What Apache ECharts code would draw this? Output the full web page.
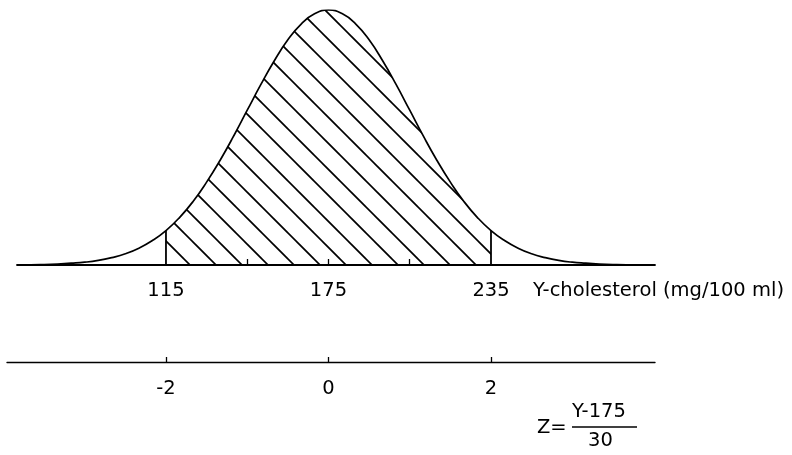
<!DOCTYPE html>
<html>
<head>
<meta charset="utf-8">
<script src="https://cdn.jsdelivr.net/npm/echarts@6/dist/echarts.min.js"></script>
<style>html,body{margin:0;padding:0;background:#fff}#c{width:792px;height:455px}</style>
</head>
<body>
<div id="c"></div>
<script>
// Cholesterol values (mg/100 ml) and curve height (relative, peak = 1)
const yValues = [60,65,70,75,80,85,90,95,100,105,110,115,120,125,130,135,140,145,150,155,160,165,170,175,180,185,190,195,200,205,210,215,220,225,230,235,240,245,250,255,260,265,270,275,280,285,290,295];
const heights = [0.001,0.001,0.002,0.004,0.007,0.011,0.018,0.029,0.044,0.066,0.096,0.135,0.186,0.249,0.325,0.411,0.506,0.607,0.707,0.801,0.883,0.946,0.986,1.000,0.986,0.946,0.883,0.801,0.707,0.607,0.506,0.411,0.325,0.249,0.186,0.135,0.096,0.066,0.044,0.029,0.018,0.011,0.007,0.004,0.002,0.001,0.001,0.000];
const shadedRange = [115, 235];
const yTickLabels = [115, 175, 235];
const yMinorTicks = [145, 175, 205];
const zTickLabels = [-2, 0, 2];
const xAxisTitle = 'Y-cholesterol (mg/100 ml)';
const formulaLeft = 'Z=';
const formulaNum = 'Y-175';
const formulaDen = '30';

const curveData = yValues.map((v, i) => [v, heights[i]]);
const shadedData = curveData.filter(p => p[0] >= shadedRange[0] && p[0] <= shadedRange[1]);
const boundaryData = shadedRange.map(v => [v, heights[yValues.indexOf(v)]]);

// hatch pattern: diagonal lines going down to the right
const P = 26;
const pc = document.createElement('canvas');
pc.width = P; pc.height = P;
const g = pc.getContext('2d');
g.strokeStyle = '#000';
g.lineWidth = 1.7;
[-3 - P, -3, -3 + P].forEach(c => {
  g.beginPath();
  g.moveTo(-5, -5 + c);
  g.lineTo(P + 5, P + 5 + c);
  g.stroke();
});

const FONT = 'DejaVu Sans';
const FS = 19.5;
const chart = echarts.init(document.getElementById('c'), null, {renderer: 'canvas'});
chart.setOption({
  animation: false,
  backgroundColor: '#fff',
  grid: [
    {left: 17, right: 137, top: 10, bottom: 190},
    {left: 7, right: 137, top: 300, bottom: 93}
  ],
  xAxis: [
    {
      type: 'value', gridIndex: 0, min: 60, max: 295.55,
      splitLine: {show: false},
      axisLine: {show: true, onZero: false, lineStyle: {color: '#000', width: 1.8}},
      axisTick: {show: true, inside: true, length: 6, customValues: yMinorTicks, lineStyle: {color: '#000', width: 1.3}},
      axisLabel: {show: true, customValues: yTickLabels, margin: 16, color: '#000', fontFamily: FONT, fontSize: FS}
    },
    {
      type: 'value', gridIndex: 1, min: -3.957, max: 4.018,
      splitLine: {show: false},
      axisLine: {show: true, onZero: false, lineStyle: {color: '#000', width: 1.4}},
      axisTick: {show: true, inside: true, length: 5, customValues: zTickLabels, lineStyle: {color: '#000', width: 1.3}},
      axisLabel: {show: true, customValues: zTickLabels, margin: 17, color: '#000', fontFamily: FONT, fontSize: FS}
    }
  ],
  yAxis: [
    {type: 'value', gridIndex: 0, min: 0, max: 1, show: false},
    {type: 'value', gridIndex: 1, min: 0, max: 1, show: false}
  ],
  series: [
    {
      type: 'line', xAxisIndex: 0, yAxisIndex: 0, data: shadedData,
      showSymbol: false, smooth: true, lineStyle: {width: 0, opacity: 0},
      areaStyle: {color: {image: pc, repeat: 'repeat'}, opacity: 1},
      z: 1
    },
    {
      type: 'line', xAxisIndex: 0, yAxisIndex: 0, data: curveData,
      showSymbol: false, smooth: true,
      lineStyle: {color: '#000', width: 1.7},
      z: 3
    },
    {
      type: 'custom', xAxisIndex: 0, yAxisIndex: 0, data: boundaryData,
      renderItem: function (params, api) {
        const p0 = api.coord([api.value(0), 0]);
        const p1 = api.coord([api.value(0), api.value(1)]);
        return {type: 'line', shape: {x1: p0[0], y1: p0[1], x2: p1[0], y2: p1[1]}, style: {stroke: '#000', lineWidth: 1.8}};
      },
      z: 4
    }
  ],
  graphic: [
    {type: 'text', left: 533, top: 281, style: {text: xAxisTitle, font: FS + 'px "DejaVu Sans"', fill: '#000'}},
    {type: 'text', left: 537, top: 418, style: {text: formulaLeft, font: FS + 'px "DejaVu Sans"', fill: '#000'}},
    {type: 'text', left: 572, top: 402, style: {text: formulaNum, font: FS + 'px "DejaVu Sans"', fill: '#000'}},
    {type: 'line', shape: {x1: 572, y1: 427, x2: 637, y2: 427}, style: {stroke: '#000', lineWidth: 1.3}},
    {type: 'text', left: 588, top: 431, style: {text: formulaDen, font: FS + 'px "DejaVu Sans"', fill: '#000'}}
  ]
});
</script>
</body>
</html>
